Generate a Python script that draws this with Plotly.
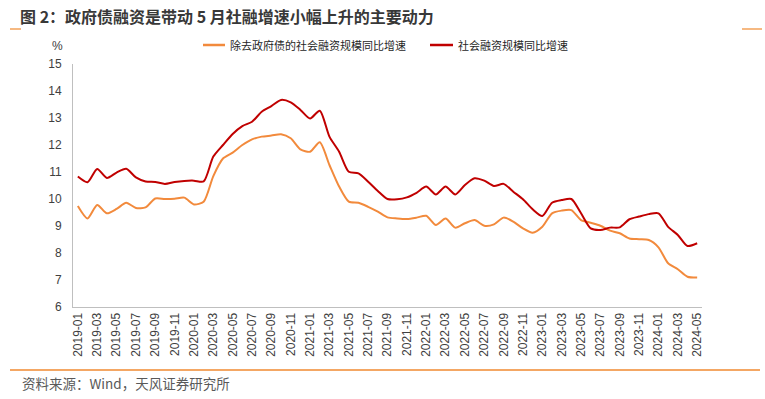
import plotly.graph_objects as go

# ---- data ----
months = [f"{y}-{m:02d}" for y in range(2019, 2025) for m in range(1, 13)][:65]

ex_gov = [9.74, 9.28, 9.78, 9.47, 9.63, 9.86, 9.67, 9.69, 10.02, 10.00, 10.01, 10.05,
          9.80, 9.90, 10.85, 11.50, 11.72, 12.00, 12.21, 12.31, 12.35, 12.40, 12.25, 11.84,
          11.75, 12.10, 11.26, 10.46, 9.90, 9.86, 9.71, 9.53, 9.32, 9.28, 9.26, 9.31,
          9.38, 9.04, 9.28, 8.94, 9.10, 9.22, 9.01, 9.06, 9.31, 9.16, 8.91, 8.75,
          8.97, 9.47, 9.57, 9.59, 9.22, 9.12, 9.01, 8.83, 8.73, 8.54, 8.51, 8.48,
          8.21, 7.62, 7.40, 7.12, 7.09]

tsf = [10.83, 10.62, 11.11, 10.78, 10.98, 11.12, 10.80, 10.65, 10.63, 10.56, 10.63, 10.67,
       10.68, 10.65, 11.57, 12.00, 12.41, 12.70, 12.86, 13.23, 13.44, 13.67, 13.58, 13.30,
       12.98, 13.27, 12.31, 11.75, 11.01, 10.95, 10.64, 10.30, 10.00, 9.99, 10.06, 10.23,
       10.46, 10.17, 10.46, 10.17, 10.52, 10.77, 10.68, 10.48, 10.56, 10.27, 9.99, 9.62,
       9.37, 9.86, 9.96, 10.00, 9.47, 8.91, 8.85, 8.94, 8.95, 9.25, 9.35, 9.44,
       9.47, 8.97, 8.67, 8.26, 8.36]

name_ex = "除去政府债的社会融资规模同比增速"
name_tsf = "社会融资规模同比增速"
title_text = "图 2：政府债融资是带动 5 月社融增速小幅上升的主要动力"
source_text = "资料来源：Wind，天风证券研究所"

y_ticks = list(range(6, 16))

ORANGE = "#F28A3C"
RED = "#C00000"
CJK = "Noto Sans CJK SC"

x_idx = list(range(len(months)))

fig = go.Figure()
fig.add_trace(go.Scatter(x=x_idx, y=ex_gov, name=name_ex, mode="lines",
                         line=dict(color=ORANGE, width=2, shape="spline", smoothing=0.7)))
fig.add_trace(go.Scatter(x=x_idx, y=tsf, name=name_tsf, mode="lines",
                         line=dict(color=RED, width=2, shape="spline", smoothing=0.7)))

L, R, T, B = 73, 63, 64, 92
W, H = 765, 399
pw, ph = W - L - R, H - T - B

def px(x):
    return (x - L) / pw

def py(y):
    return (H - B - y) / ph

fig.update_layout(
    width=W, height=H,
    margin=dict(l=L, r=R, t=T, b=B, autoexpand=False),
    paper_bgcolor="white", plot_bgcolor="white",
    font=dict(family="Liberation Sans, Arial, " + CJK, color="#404040", size=12),
    title=dict(text=title_text, x=20 / W, xanchor="left", y=1 - 17 / H, yanchor="middle",
               font=dict(family=CJK, size=16, color="#383838", weight="bold")),
    showlegend=False,
    xaxis=dict(range=[-0.5, len(months) - 0.5], tickmode="array",
               tickvals=x_idx[::2], ticktext=months[::2], tickangle=-90,
               showgrid=False, zeroline=False, showline=True, linecolor="#BFBFBF",
               linewidth=1, ticks="", tickfont=dict(size=12, color="#404040")),
    yaxis=dict(range=[6, 15], tickmode="array", tickvals=y_ticks,
               showgrid=False, zeroline=False, showline=True, linecolor="#BFBFBF",
               linewidth=1, ticks="", ticklabelstandoff=8,
               tickfont=dict(size=12, color="#404040")),
)

# legend (drawn manually to match key length/spacing)
legend_items = [(name_ex, ORANGE, 203, 225), (name_tsf, RED, 430, 453)]
for label, color, k0, k1 in legend_items:
    fig.add_shape(type="line", xref="paper", yref="paper", x0=px(k0), x1=px(k1),
                  y0=py(45), y1=py(45), line=dict(color=color, width=2.5))
    fig.add_annotation(text=label, xref="paper", yref="paper", x=px(k1 + 3), y=py(45),
                       xanchor="left", yanchor="middle", showarrow=False,
                       font=dict(family=CJK, size=11, color="#262626"))

fig.add_annotation(text="%", xref="paper", yref="paper", x=px(57), y=py(46),
                   xanchor="center", yanchor="middle", showarrow=False,
                   font=dict(size=12, color="#404040"))
fig.add_annotation(text=source_text, xref="paper", yref="paper", x=px(20), y=py(383),
                   xanchor="left", yanchor="middle", showarrow=False,
                   font=dict(family=CJK, size=13.5, color="#595959"))

# decorative orange rules
fig.add_shape(type="line", xref="paper", yref="paper", x0=px(10), x1=px(760),
              y0=py(370), y1=py(370), line=dict(color="#F08A30", width=1.5))
fig.add_shape(type="line", xref="paper", yref="paper", x0=px(10), x1=px(21),
              y0=py(29), y1=py(29), line=dict(color="#F08A30", width=1.2))
fig.add_shape(type="line", xref="paper", yref="paper", x0=px(742), x1=px(762),
              y0=py(29), y1=py(29), line=dict(color="#F08A30", width=1.2))

fig.write_html("out.html", config={"displayModeBar": False},
               post_script="document.body.style.margin='0';document.body.style.overflow='hidden';")
